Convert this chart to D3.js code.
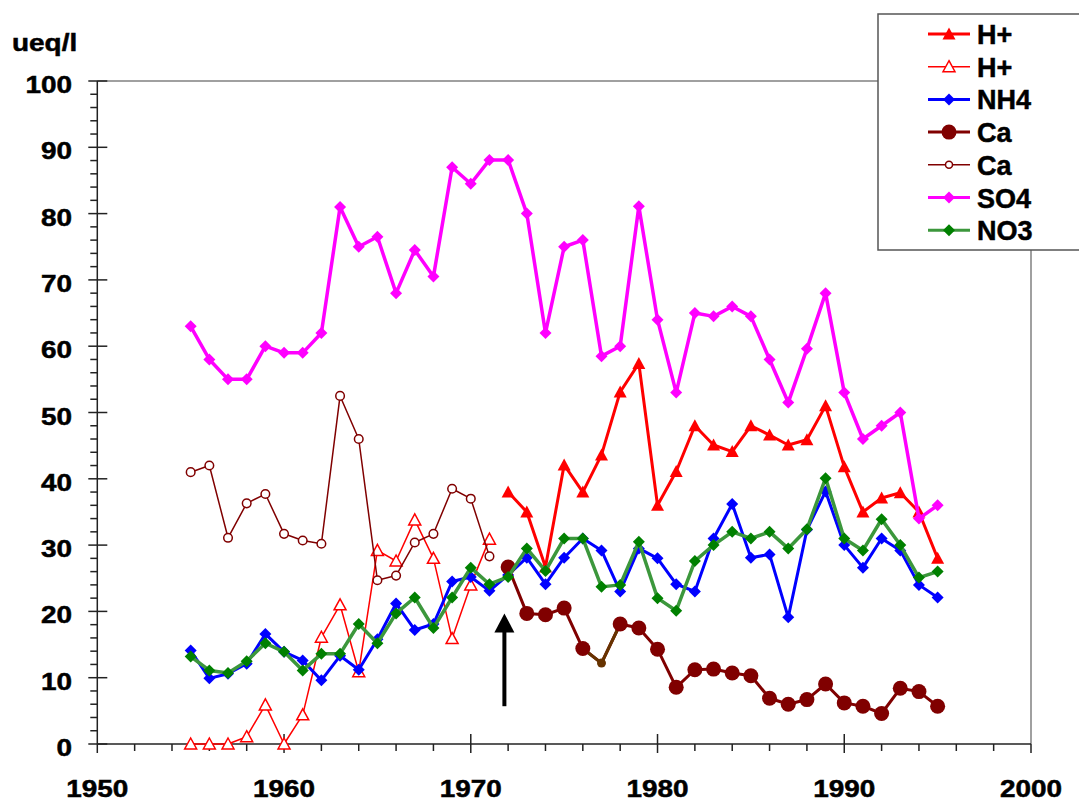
<!DOCTYPE html>
<html>
<head>
<meta charset="utf-8">
<script src="https://cdn.jsdelivr.net/npm/d3@7/dist/d3.min.js"></script>
<style>
  body { margin: 0; background: #fff; }
  text { font-family: "Liberation Sans", Arial, sans-serif; font-weight: bold; fill: #000; stroke: #000; stroke-width: 0.5px; }
</style>
</head>
<body>
<div id="chart"></div>
<script>
// years
const yearsAll = [1955, 1956, 1957, 1958, 1959, 1960, 1961, 1962, 1963, 1964, 1965, 1966, 1967, 1968,
  1969, 1970, 1971, 1972, 1973, 1974, 1975, 1976, 1977, 1978, 1979, 1980, 1981, 1982, 1983, 1984,
  1985, 1986, 1987, 1988, 1989, 1990, 1991, 1992, 1993, 1994, 1995]
const yearsEarly = [1955, 1956, 1957, 1958, 1959, 1960, 1961, 1962, 1963, 1964, 1965, 1966, 1967,
  1968, 1969, 1970, 1971]
const yearsLate = [1972, 1973, 1974, 1975, 1976, 1977, 1978, 1979, 1980, 1981, 1982, 1983, 1984,
  1985, 1986, 1987, 1988, 1989, 1990, 1991, 1992, 1993, 1994, 1995]

// series values (ueq/l)
const hLate = [38, 35, 26.7, 42.1, 38, 43.6, 53.1, 57.4, 36, 41.1, 48, 45.1, 44.1, 48, 46.6, 45.1,
  45.9, 51, 41.8, 35, 37.1, 37.9, 35, 28]
const hEarly = [0, 0, 0, 1.1, 5.9, 0, 4.4, 16.1, 21, 10.9, 29.2, 27.6, 33.8, 28, 15.9, 24, 30.9]
const nh4 = [14.1, 9.9, 10.6, 12.1, 16.6, 13.9, 12.6, 9.6, 13.3, 11.2, 15.8, 21.2, 17.2, 18.1, 24.5,
  25.2, 23.1, 25.5, 28.1, 24.1, 28.1, 31.0, 29.2, 23.0, 29.5, 28.0, 24.1, 23.0, 31.0, 36.2, 28.1,
  28.6, 19.1, 32.3, 38.1, 30.0, 26.6, 31.0, 29.2, 24.0, 22.1]
const caLate = [26.7, 19.7, 19.5, 20.5, 14.4, 12.2, 18.1, 17.5, 14.3, 8.55, 11.2, 11.3, 10.7, 10.3,
  6.9, 6.0, 6.7, 9.05, 6.2, 5.7, 4.6, 8.4, 7.9, 5.7]
const caEarly = [41, 42, 31.1, 36.3, 37.7, 31.7, 30.7, 30.2, 52.5, 46, 24.7, 25.4, 30.4, 31.7, 38.5,
  37, 28.3]
const so4 = [63, 58, 55, 55, 60, 59, 59, 62, 81, 75, 76.5, 68, 74.5, 70.5, 87, 84.5, 88.1, 88.1, 80,
  62, 75, 76, 58.5, 60, 81.1, 64, 53, 65, 64.5, 66, 64.5, 58, 51.5, 59.6, 68, 53, 46, 48, 50, 34, 36]
const no3 = [13.2, 11.1, 10.7, 12.5, 15.2, 13.9, 11.1, 13.6, 13.6, 18.1, 15.2, 19.7, 22.1, 17.5,
  22.1, 26.6, 24.1, 25.2, 29.5, 26.1, 31.0, 31.0, 23.7, 24.0, 30.5, 22.0, 20.1, 27.6, 30.0, 32.0,
  31.0, 32.0, 29.5, 32.4, 40.1, 31.0, 29.2, 33.9, 30.0, 25.1, 26.0]

// tick labels
const xTicks = [1950, 1960, 1970, 1980, 1990, 2000]
const yTicks = [0, 10, 20, 30, 40, 50, 60, 70, 80, 90, 100]

// arrow marking the change of method
const arrowYear = 1971.8
const arrowFrom = 5.7
const arrowTo = 19.7

const width = 1079
const height = 802
const plot = { left: 97.3, right: 1031, top: 81, bottom: 744 }
const stretch = 1.14

const svg = d3
  .select('#chart')
  .append('svg')
  .attr('width', width)
  .attr('height', height)

const x = d3.scaleLinear().domain([1950, 2000]).range([plot.left, plot.right])
const y = d3.scaleLinear().domain([0, 100]).range([plot.bottom, plot.top])

// frame: grey top and right, dark axes
svg.append('line')
  .attr('x1', plot.left).attr('x2', plot.right)
  .attr('y1', plot.top).attr('y2', plot.top)
  .attr('stroke', '#808080').attr('stroke-width', 1.5)
svg.append('line')
  .attr('x1', plot.right).attr('x2', plot.right)
  .attr('y1', plot.top).attr('y2', plot.bottom)
  .attr('stroke', '#808080').attr('stroke-width', 1.5)

const axes = svg.append('g').attr('stroke', '#222').attr('stroke-width', 1.5)
axes.append('line')
  .attr('x1', plot.left).attr('x2', plot.left)
  .attr('y1', plot.top).attr('y2', plot.bottom)
axes.append('line')
  .attr('x1', plot.left).attr('x2', plot.right)
  .attr('y1', plot.bottom).attr('y2', plot.bottom)

// y ticks
axes.selectAll('.y-minor')
  .data(d3.range(0, 101, 2).filter(d => d % 10 !== 0))
  .enter().append('line')
  .attr('x1', plot.left - 7).attr('x2', plot.left)
  .attr('y1', d => y(d)).attr('y2', d => y(d))
axes.selectAll('.y-major')
  .data(yTicks)
  .enter().append('line')
  .attr('x1', plot.left - 9).attr('x2', plot.left + 10)
  .attr('y1', d => y(d)).attr('y2', d => y(d))

// x ticks
axes.selectAll('.x-minor')
  .data(d3.range(1950, 2001, 2).filter(d => d % 10 !== 0))
  .enter().append('line')
  .attr('x1', d => x(d)).attr('x2', d => x(d))
  .attr('y1', plot.bottom).attr('y2', plot.bottom + 7)
axes.selectAll('.x-major')
  .data(xTicks)
  .enter().append('line')
  .attr('x1', d => x(d)).attr('x2', d => x(d))
  .attr('y1', d => (d === 1950 || d === 2000) ? plot.bottom : plot.bottom - 10)
  .attr('y2', plot.bottom + 9)

// tick labels, slightly stretched like the original
svg.selectAll('.y-label')
  .data(yTicks)
  .enter().append('text')
  .attr('text-anchor', 'end')
  .attr('font-size', 24.5)
  .attr('transform', d => `translate(72,${y(d) + 12}) scale(${stretch},1)`)
  .text(d => d)

svg.selectAll('.x-label')
  .data(xTicks)
  .enter().append('text')
  .attr('text-anchor', 'middle')
  .attr('font-size', 24.5)
  .attr('transform', d => `translate(${x(d)},797) scale(${stretch},1)`)
  .text(d => d)

svg.append('text')
  .attr('font-size', 24.5)
  .attr('transform', `translate(12,51) scale(${stretch},1)`)
  .text('ueq/l')

// marker shapes
const shapes = {
  triangle: 'M0,-6.5L6.5,5.5L-6.5,5.5Z',
  triangleOpen: 'M0,-6L6,5L-6,5Z',
  diamond: 'M0,-6L6,0L0,6L-6,0Z'
}

function drawMarker(g, type, color, size) {
  if (type === 'circle') {
    g.append('circle').attr('r', size).attr('fill', color)
  } else if (type === 'circleOpen') {
    g.append('circle').attr('r', size).attr('fill', '#fff')
      .attr('stroke', color).attr('stroke-width', 1.5)
  } else if (type === 'triangleOpen') {
    g.append('path').attr('d', shapes.triangleOpen).attr('fill', '#fff')
      .attr('stroke', color).attr('stroke-width', 1.5)
  } else {
    g.append('path').attr('d', shapes[type]).attr('fill', color)
  }
}

const series = [
  { name: 'H+', years: yearsLate, values: hLate, line: '#ff0000', mark: '#ff0000', width: 3, type: 'triangle', size: 0 },
  { name: 'H+', years: yearsEarly, values: hEarly, line: '#ff0000', mark: '#ff0000', width: 1.5, type: 'triangleOpen', size: 0 },
  { name: 'NH4', years: yearsAll, values: nh4, line: '#0000ff', mark: '#0000ff', width: 3, type: 'diamond', size: 0 },
  { name: 'Ca', years: yearsLate, values: caLate, line: '#800000', mark: '#800000', width: 3, type: 'circle', size: 7.5 },
  { name: 'Ca', years: yearsEarly, values: caEarly, line: '#800000', mark: '#800000', width: 1.5, type: 'circleOpen', size: 4.3 },
  { name: 'SO4', years: yearsAll, values: so4, line: '#ff00ff', mark: '#ff00ff', width: 3.5, type: 'diamond', size: 0 },
  { name: 'NO3', years: yearsAll, values: no3, line: '#3c973c', mark: '#008000', width: 3.5, type: 'diamond', size: 0 }
]

const line = d3.line().x(d => x(d.year)).y(d => y(d.value))

series.forEach(s => {
  const pts = s.years.map((yr, i) => ({ year: yr, value: s.values[i] }))
  const g = svg.append('g')
  g.append('path')
    .attr('d', line(pts))
    .attr('fill', 'none')
    .attr('stroke', s.line)
    .attr('stroke-width', s.width)
    .attr('stroke-linejoin', 'round')

  // the 1977 Ca point is shown smaller and in brown in the original
  if (s.type === 'circle') {
    const odd = pts.filter(p => p.year >= 1976 && p.year <= 1978)
    g.append('path')
      .attr('d', line(odd))
      .attr('fill', 'none')
      .attr('stroke', '#663300')
      .attr('stroke-width', s.width)
  }

  pts.forEach(p => {
    const m = g.append('g').attr('transform', `translate(${x(p.year)},${y(p.value)})`)
    if (s.type === 'circle' && p.year === 1977) {
      drawMarker(m, 'circle', '#663300', 4.5)
    } else {
      drawMarker(m, s.type, s.mark, s.size)
    }
  })
})

// arrow
const ax = x(arrowYear)
svg.append('line')
  .attr('x1', ax).attr('x2', ax)
  .attr('y1', y(arrowFrom)).attr('y2', y(arrowTo) + 16)
  .attr('stroke', '#000').attr('stroke-width', 4)
svg.append('path')
  .attr('d', `M${ax},${y(arrowTo)}L${ax + 10},${y(arrowTo) + 19}L${ax - 10},${y(arrowTo) + 19}Z`)
  .attr('fill', '#000')

// legend
const legend = svg.append('g')
legend.append('rect')
  .attr('x', 878).attr('y', 14)
  .attr('width', 260).attr('height', 236)
  .attr('fill', '#fff')
  .attr('stroke', '#555').attr('stroke-width', 1.5)

series.forEach((s, i) => {
  const cy = 34 + i * 32.7
  const row = legend.append('g').attr('transform', `translate(0,${cy})`)
  row.append('line')
    .attr('x1', 928).attr('x2', 970)
    .attr('stroke', s.line)
    .attr('stroke-width', s.width === 1.5 ? 1.5 : 3)
  const m = row.append('g').attr('transform', 'translate(949,0)')
  drawMarker(m, s.type, s.mark, s.type === 'circle' ? 7.5 : 3.5)
  row.append('text')
    .attr('x', 977).attr('y', 10)
    .attr('font-size', 27)
    .text(s.name)
})
</script>
</body>
</html>
